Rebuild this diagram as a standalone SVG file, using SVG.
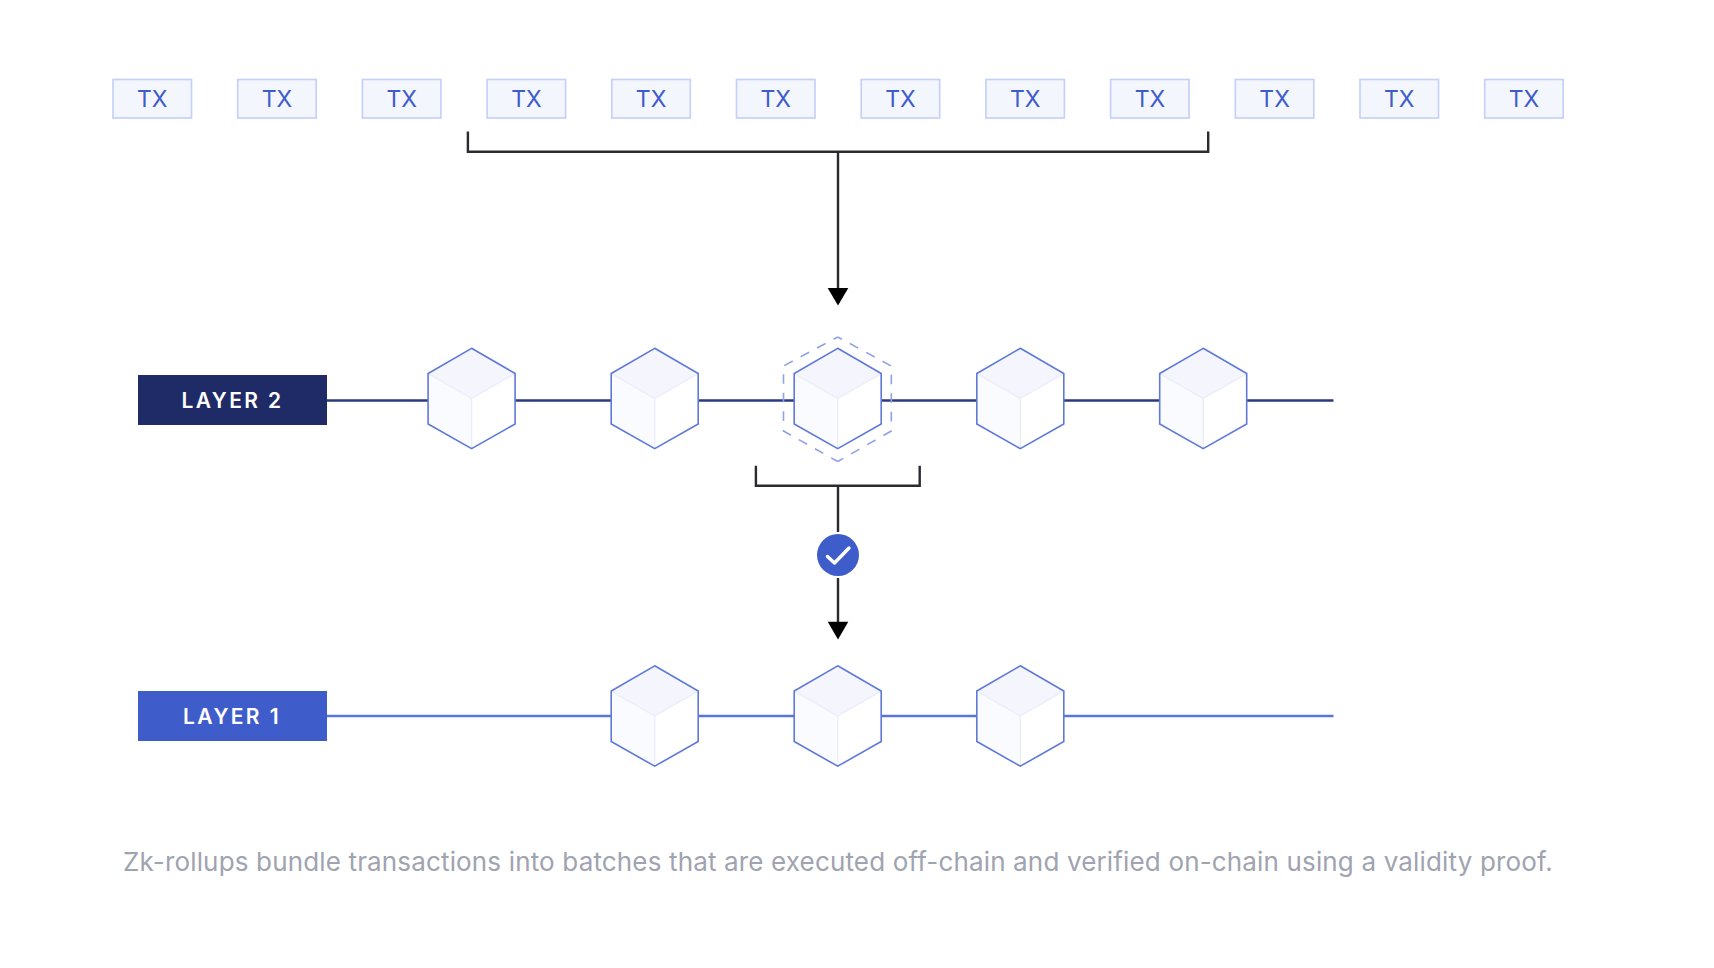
<svg xmlns="http://www.w3.org/2000/svg" width="1714" height="968" viewBox="0 0 1714 968">
<style>
.tx rect{fill:#f4f6fd;stroke:#c4cffa;stroke-width:1.6}
.tx text{font:400 23px Inter,"Liberation Sans",sans-serif;fill:#3f5ccb;text-anchor:middle}
.lbl{font:600 21px Inter,"Liberation Sans",sans-serif;fill:#fff;text-anchor:middle;letter-spacing:2.4px}
.blk{fill:none;stroke:#2b2b2f;stroke-width:2.4}
.cap{font:400 26px Inter,"Liberation Sans",sans-serif;fill:#a0a3b0;text-anchor:middle;letter-spacing:.155px}
.dash{fill:none;stroke:#8fa2e6;stroke-width:1.6;stroke-dasharray:9.6 9;stroke-dashoffset:4.8}
</style>
<defs>
<g id="cube">
<path d="M0-50.2L43.5-25V25.5L0 50.2L-43.5 25.5V-25Z" fill="#fff"/>
<path d="M0-50.2L43.5-25L0 0L-43.5-25Z" fill="#f5f6fd"/>
<path d="M-43.5-25L0 0V50.2L-43.5 25.5Z" fill="#fafbff"/>
<path d="M-43.5-25L0 0L43.5-25M0 0V50.2" fill="none" stroke="#eceffb" stroke-width="1.5"/>
<path d="M0-50.2L43.5-25V25.5L0 50.2L-43.5 25.5V-25Z" fill="none" stroke="#5f79d8" stroke-width="1.6"/>
</g>
</defs>
<rect width="1714" height="968" fill="#fff"/>
<g id="connectors">
<path d="M327 400.5H1333.500" stroke="#2b3a80" stroke-width="2.4" fill="none"/>
<path d="M327 716H1333.500" stroke="#5a75d8" stroke-width="2.4" fill="none"/>
<path class="blk" d="M467.900 131.5V151.7H1208.200V131.5"/>
<path class="blk" d="M838 151.7V290"/>
<path d="M827.7 288H848.3L838 305.500Z" fill="#000"/>
<path class="blk" d="M755.900 465.7V485.7H919.700V465.7"/>
<path class="blk" d="M838 485.7V532"/>
<path class="blk" d="M838 578V623"/>
<path d="M827.7 621.7H848.3L838 639.5Z" fill="#000"/>
</g>
<g id="tx-1" class="tx"><rect x="113" y="79.5" width="78.500" height="38.5"/><text x="152.300" y="106.500">TX</text></g>
<g id="tx-2" class="tx"><rect x="237.700" y="79.5" width="78.500" height="38.5"/><text x="277" y="106.500">TX</text></g>
<g id="tx-3" class="tx"><rect x="362.400" y="79.5" width="78.500" height="38.5"/><text x="401.700" y="106.500">TX</text></g>
<g id="tx-4" class="tx"><rect x="487.100" y="79.5" width="78.500" height="38.5"/><text x="526.400" y="106.500">TX</text></g>
<g id="tx-5" class="tx"><rect x="611.800" y="79.5" width="78.500" height="38.5"/><text x="651.100" y="106.500">TX</text></g>
<g id="tx-6" class="tx"><rect x="736.500" y="79.5" width="78.500" height="38.5"/><text x="775.800" y="106.500">TX</text></g>
<g id="tx-7" class="tx"><rect x="861.200" y="79.5" width="78.500" height="38.5"/><text x="900.500" y="106.500">TX</text></g>
<g id="tx-8" class="tx"><rect x="985.900" y="79.5" width="78.500" height="38.5"/><text x="1025.200" y="106.500">TX</text></g>
<g id="tx-9" class="tx"><rect x="1110.600" y="79.5" width="78.500" height="38.5"/><text x="1149.900" y="106.500">TX</text></g>
<g id="tx-10" class="tx"><rect x="1235.300" y="79.5" width="78.500" height="38.5"/><text x="1274.600" y="106.500">TX</text></g>
<g id="tx-11" class="tx"><rect x="1360" y="79.5" width="78.500" height="38.5"/><text x="1399.300" y="106.500">TX</text></g>
<g id="tx-12" class="tx"><rect x="1484.700" y="79.5" width="78.500" height="38.5"/><text x="1524" y="106.500">TX</text></g>
<g id="layer-2"><rect x="138" y="375" width="189" height="50" fill="#1f2b66"/><text class="lbl" x="232.500" y="408">LAYER 2</text></g>
<g id="layer-1"><rect x="138" y="691" width="189" height="50" fill="#3f5ccb"/><text class="lbl" x="232" y="724">LAYER 1</text></g>
<g id="l2-block-1"><use href="#cube" x="471.600" y="398.500"/></g>
<g id="l2-block-2"><use href="#cube" x="654.700" y="398.500"/></g>
<g id="l2-block-3"><path class="dash" d="M837.700 337L891.300 366V431L837.700 461.500"/><path class="dash" d="M837.700 337L783.500 366V431L837.700 461.500"/><use href="#cube" x="837.700" y="398.500"/></g>
<g id="l2-block-4"><use href="#cube" x="1020.300" y="398.500"/></g>
<g id="l2-block-5"><use href="#cube" x="1203.200" y="398.500"/></g>
<g id="l1-block-1"><use href="#cube" x="654.700" y="716"/></g>
<g id="l1-block-2"><use href="#cube" x="837.700" y="716"/></g>
<g id="l1-block-3"><use href="#cube" x="1020.300" y="716"/></g>
<g id="check"><circle cx="838" cy="555" r="21" fill="#3f5ccb"/><path d="M827.500 556.500L834.500 563L849 548" fill="none" stroke="#fff" stroke-width="3.4" stroke-linecap="round" stroke-linejoin="round"/></g>
<text class="cap" x="838" y="871">Zk-rollups bundle transactions into batches that are executed off-chain and verified on-chain using a validity proof.</text>
</svg>
